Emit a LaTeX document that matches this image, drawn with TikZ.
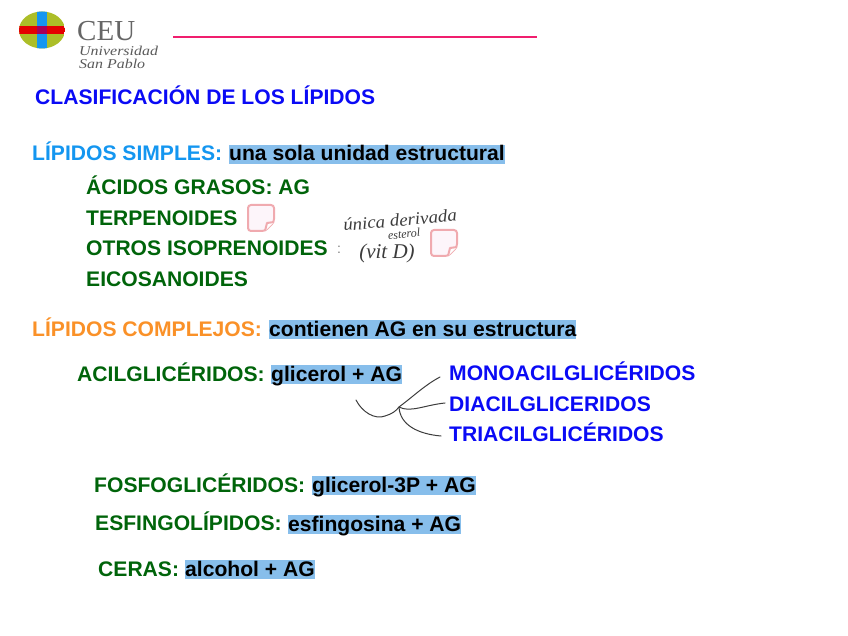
\documentclass[tikz,border=0pt]{standalone}
\usepackage{fontspec}
\setmainfont{Liberation Sans}
\newfontfamily\logofont{Liberation Serif}
\definecolor{navy}{RGB}{10,10,245}
\definecolor{sky}{RGB}{20,150,240}
\definecolor{orng}{RGB}{250,145,40}
\definecolor{grn}{RGB}{0,100,10}
\definecolor{hl}{RGB}{135,190,235}
\definecolor{pinkline}{RGB}{240,30,110}
\definecolor{note}{RGB}{240,170,175}
\definecolor{notefill}{RGB}{253,245,250}
\definecolor{inkc}{RGB}{60,60,60}
\definecolor{olive}{RGB}{172,190,40}
\tikzset{
 txt/.style={anchor=base west,inner sep=0pt,yshift=-7pt,font=\fontsize{21.1}{22}\selectfont\bfseries},
 mark1/.style={txt,fill=hl,text=black,text height=16pt,text depth=3pt},
 hand/.style={inkc,line width=1pt,line cap=round,line join=round},
 ink/.style={inkc,anchor=center,inner sep=0pt},
 logosub/.style={anchor=west,inner sep=0pt,text=black!65,xscale=1.18,font=\logofont\itshape\fontsize{13.5}{13.5}\selectfont},
 stickynote/.pic={
  \draw[note,line width=2pt,fill=notefill,rounded corners=3pt] (-13,-13) -- (13,-13) -- (13,4) -- (4,13) -- (-13,13) -- cycle;
  \draw[note,line width=2pt,fill=white,line join=round] (13,4) -- (6,5) -- (4,13);
 }
}
\begin{document}
\begin{tikzpicture}[x=1pt,y=-1pt]
\useasboundingbox (0,0) rectangle (848,636);
% logo
\begin{scope}
\clip (42,30) ellipse (23 and 18.5);
\fill[olive] (19,11) rectangle (65,49);
\fill[sky] (37,11) rectangle (47,49);
\fill[red!90!black] (19,26) rectangle (65,34);
\fill[violet!70!red] (37,26) rectangle (47,34);
\end{scope}
\node[anchor=west,inner sep=0pt,text=black!60,font=\logofont\fontsize{29}{29}\selectfont] (ceu) at (77,31) {CEU};
\node[logosub] (uni) at (79,51) {Universidad};
\node[logosub] (sp) at (79,64) {San Pablo};
\coordinate (l1) at (173,37); \coordinate (l2) at (537,37);
\draw[pinkline,line width=2pt] (l1) -- (l2);
% text
\node[txt,text=navy] (title) at (35,98) {CLASIFICACIÓN DE LOS LÍPIDOS};
\node[txt,text=sky] (simples) at (32,154) {LÍPIDOS SIMPLES:};
\node[mark1] (simplesh) at (229,154) {una sola unidad estructural};
\node[txt,text=grn] (ag) at (86,188) {ÁCIDOS GRASOS: AG};
\node[txt,text=grn] (terp) at (86,219) {TERPENOIDES};
\node[txt,text=grn] (iso) at (86,249) {OTROS ISOPRENOIDES};
\node[anchor=west,inner sep=0pt,text=black!50,font=\fontsize{14}{14}\selectfont] (colon) at (337,250) {:};
\node[txt,text=grn] (eico) at (86,279) {EICOSANOIDES};
\pic at (261,218) {stickynote};
\pic at (444,243) {stickynote};
\node[ink,rotate=5,xscale=1.08,font=\logofont\itshape\fontsize{17.5}{17.5}\selectfont] (h1) at (400,220) {única derivada};
\node[ink,rotate=5,font=\logofont\itshape\fontsize{12}{12}\selectfont] (h2) at (404,234) {esterol};
\node[ink,font=\logofont\itshape\fontsize{21}{21}\selectfont] (h3) at (387,253) {(vit D)};
\node[txt,text=orng] (comp) at (32,329) {LÍPIDOS COMPLEJOS:};
\node[mark1] (comph) at (269,329) {contienen AG en su estructura};
\node[txt,text=grn] (acil) at (77,374) {ACILGLICÉRIDOS:};
\node[mark1] (acilh) at (271,374) {glicerol + AG};
\node[txt,text=navy] (mono) at (449,373) {MONOACILGLICÉRIDOS};
\node[txt,text=navy] (di) at (449,404) {DIACILGLICERIDOS};
\node[txt,text=navy] (tri) at (449,434) {TRIACILGLICÉRIDOS};
\node[txt,text=grn] (fos) at (94,485) {FOSFOGLICÉRIDOS:};
\node[mark1] (fosh) at (312,485) {glicerol-3P + AG};
\node[txt,text=grn] (esf) at (95,523) {ESFINGOLÍPIDOS:};
\node[mark1] (esfh) at (288,524) {esfingosina + AG};
\node[txt,text=grn] (cer) at (98,569) {CERAS:};
\node[mark1] (cerh) at (185,569) {alcohol + AG};
% brace strokes
\coordinate (b0) at (356,400); \coordinate (bj) at (399,407);
\coordinate (bm) at (440,377); \coordinate (bd) at (445,403); \coordinate (bt) at (441,436);
\draw[hand] (b0) .. controls (362,412) and (375,420) .. (385,416) .. controls (392,414) and (396,411) .. (bj)
  .. controls (415,395) and (425,385) .. (bm);
\draw[hand] (bj) .. controls (410,413) and (425,405) .. (bd);
\draw[hand] (bj) .. controls (400,425) and (418,434) .. (bt);
\end{tikzpicture}
\end{document}
